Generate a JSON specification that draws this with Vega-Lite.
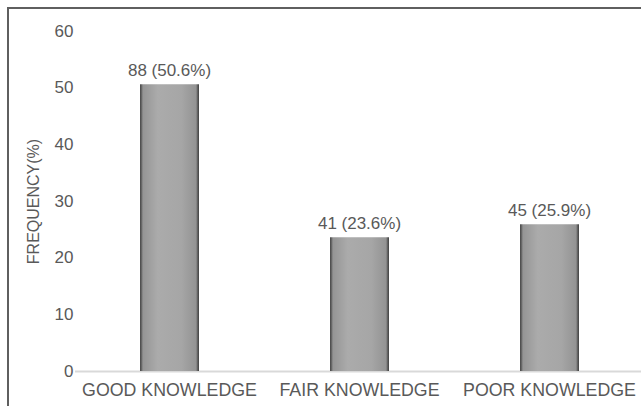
{
  "$schema": "https://vega.github.io/schema/vega-lite/v6.json",
  "width": 636,
  "height": 401,
  "autosize": {"type": "none"},
  "padding": {"left": 8, "top": 8, "right": -3, "bottom": -3},
  "background": "white",
  "config": {
    "font": "Liberation Sans",
    "view": {"stroke": "#5f5f5f", "strokeWidth": 2},
    "axis": {"labelColor": "#595959", "titleColor": "#595959", "labelFont": "Liberation Sans", "titleFont": "Liberation Sans"}
  },
  "data": {
    "values": [
      {"level": "GOOD KNOWLEDGE", "pct": 50.6, "label": "88 (50.6%)"},
      {"level": "FAIR KNOWLEDGE", "pct": 23.6, "label": "41 (23.6%)"},
      {"level": "POOR KNOWLEDGE", "pct": 25.9, "label": "45 (25.9%)"}
    ]
  },
  "encoding": {
    "x": {
      "field": "level",
      "type": "nominal",
      "sort": null,
      "scale": {"range": [66.5, 636.5], "paddingInner": 0.69, "paddingOuter": 0.345},
      "axis": {
        "title": null,
        "orient": "bottom",
        "offset": -38,
        "labelAngle": 0,
        "labelFontSize": 17.8,
        "labelPadding": 10,
        "ticks": false,
        "domainColor": "#d9d9d9",
        "domainWidth": 2
      }
    },
    "y": {
      "field": "pct",
      "type": "quantitative",
      "scale": {"domain": [0, 60], "range": [363, 23], "nice": false},
      "axis": {
        "title": "FREQUENCY(%)",
        "titleFontSize": 16,
        "titleFontWeight": "normal",
        "titlePadding": 13,
        "offset": -67,
        "values": [0, 10, 20, 30, 40, 50, 60],
        "labelFontSize": 17,
        "labelPadding": 2,
        "ticks": false,
        "domain": false,
        "grid": false
      }
    }
  },
  "layer": [
    {
      "mark": {
        "type": "bar",
        "color": {
          "gradient": "linear",
          "x1": 0, "x2": 1, "y1": 0, "y2": 0,
          "stops": [
            {"offset": 0, "color": "#3a3a3a"},
            {"offset": 0.05, "color": "#959595"},
            {"offset": 0.3, "color": "#ababab"},
            {"offset": 0.7, "color": "#a6a6a6"},
            {"offset": 0.95, "color": "#939393"},
            {"offset": 1, "color": "#333333"}
          ]
        }
      }
    },
    {
      "mark": {"type": "text", "baseline": "alphabetic", "dy": -8, "fontSize": 17, "color": "#595959"},
      "encoding": {"text": {"field": "label"}}
    }
  ]
}
